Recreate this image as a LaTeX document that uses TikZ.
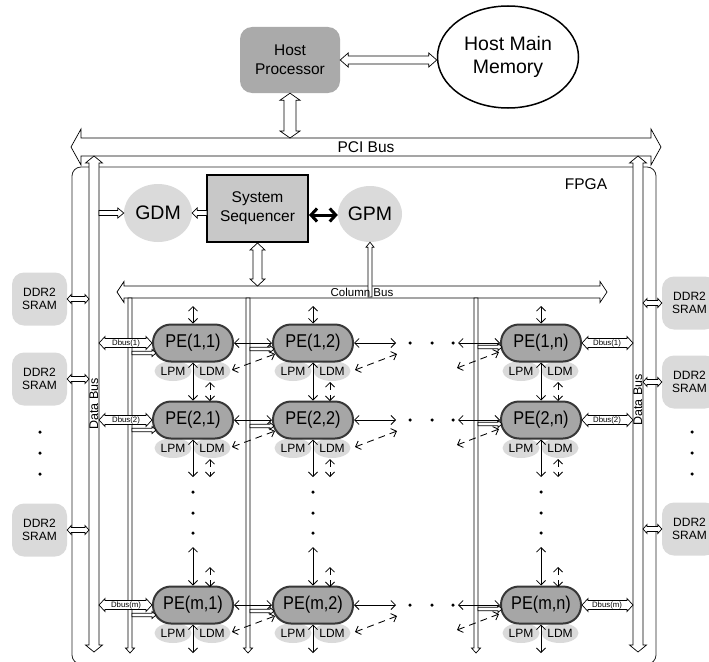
\documentclass[tikz,border=0pt]{standalone}
\usepackage{fontspec}
\setmainfont{Liberation Sans}
\usetikzlibrary{arrows.meta,calc,shapes.geometric}
\definecolor{hpgray}{RGB}{170,170,170}
\definecolor{pegray}{RGB}{166,166,166}
\definecolor{seqgray}{RGB}{200,200,200}
\definecolor{lgray}{RGB}{218,218,218}
\definecolor{pedge}{RGB}{55,55,55}
\newcommand\fsz[2]{\fontsize{#1}{#2}\selectfont}
\newcommand\pelab[1]{\scalebox{0.88}[1]{#1}}
\tikzset{
  hollow both/.style args={#1/#2/#3}{to path={let \p1=(\tikztostart), \p2=(\tikztotarget), \n1={atan2((\y2)-(\y1),(\x2)-(\x1))} in
    -- ($(\p1)+({\n1}:#3)+({\n1+90}:#2)$)
    -- ($(\p1)+({\n1}:#3)+({\n1+90}:#1)$)
    -- ($(\p2)+({\n1+180}:#3)+({\n1+90}:#1)$)
    -- ($(\p2)+({\n1+180}:#3)+({\n1+90}:#2)$)
    -- (\p2)
    -- ($(\p2)+({\n1+180}:#3)+({\n1-90}:#2)$)
    -- ($(\p2)+({\n1+180}:#3)+({\n1-90}:#1)$)
    -- ($(\p1)+({\n1}:#3)+({\n1-90}:#1)$)
    -- ($(\p1)+({\n1}:#3)+({\n1-90}:#2)$)
    -- cycle}},
  hollow end/.style args={#1/#2/#3}{to path={let \p1=(\tikztostart), \p2=(\tikztotarget), \n1={atan2((\y2)-(\y1),(\x2)-(\x1))} in
    ($(\p1)+({\n1+90}:#1)$)
    -- ($(\p2)+({\n1+180}:#3)+({\n1+90}:#1)$)
    -- ($(\p2)+({\n1+180}:#3)+({\n1+90}:#2)$)
    -- (\p2)
    -- ($(\p2)+({\n1+180}:#3)+({\n1-90}:#2)$)
    -- ($(\p2)+({\n1+180}:#3)+({\n1-90}:#1)$)
    -- ($(\p1)+({\n1-90}:#1)$)
    -- cycle}},
  hol/.style={draw=black, line width=0.7pt, fill=white, line join=miter},
  arr/.style={line width=0.85pt, {Straight Barb[length=4.5pt,width=9pt]}-{Straight Barb[length=4.5pt,width=9pt]}},
  darr/.style={arr, dash pattern=on 7pt off 5pt},
  thickarr/.style={line width=3pt, {Straight Barb[length=6pt,width=13pt]}-{Straight Barb[length=6pt,width=13pt]}},
  hp/.style={fill=hpgray, rounded corners=12pt, minimum width=100pt, minimum height=66pt, inner sep=0pt, align=center, font=\fsz{15.5}{19}},
  pe/.style={draw=pedge, line width=2pt, fill=pegray, rounded corners=18pt, minimum width=80pt, minimum height=37pt, inner sep=0pt, font=\fsz{18.5}{20}},
  lm/.style={ellipse, fill=lgray, minimum width=37pt, minimum height=20pt, inner sep=0pt, font=\fsz{12}{13}},
  bigell/.style={ellipse, fill=lgray, inner sep=0pt, font=\fsz{19.5}{22}},
  ddr/.style={fill=lgray, rounded corners=12pt, minimum width=55pt, minimum height=53pt, inner sep=0pt, align=center, font=\fsz{12}{13.5}},
  dot/.style={circle, fill=black, inner sep=0pt, minimum size=3.5pt},
  dbus/.style={inner sep=0pt, font=\fsz{7.8}{8}},
  buslab/.style={inner sep=0pt, font=\fsz{12.5}{14}},
}
\begin{document}
\begin{tikzpicture}[x=1pt,y=-1pt]
\useasboundingbox (0,0) rectangle (709,661);
\clip (0,0) rectangle (709,661);

% FPGA frame
\draw[line width=0.8pt, draw=black!85, rounded corners=9pt] (72,167) rectangle (656,664);
\node[font=\fsz{15.5}{18}] (fpgalab) at (586,184) {FPGA};

% host
\node[hp] (HP) at (290,60) {Host\\Processor};
\node[ellipse, draw, line width=1.5pt, fill=white, minimum width=141pt, minimum height=102pt, inner sep=0pt, align=center, font=\fsz{19.5}{23}] (HMM) at (508,57) {Host Main\\Memory};
\draw[hol] (HP.east) to[hollow both=4pt/7pt/8pt] (HP.east -| HMM.west);

% PCI bus
\coordinate (pciL) at (71,147);
\coordinate (pciR) at (661,147);
\draw[hol] (pciL) to[hollow both=9pt/18pt/10pt] (pciR);
\node[inner sep=0pt, font=\fsz{15.5}{18}] (pcilab) at (366,147) {PCI Bus};
\coordinate (pciT) at (290,138);
\draw[hol] (HP.south) to[hollow both=6pt/10pt/7pt] (pciT);

% data buses
\coordinate (dLt) at (94,156);
\coordinate (dLb) at (94,652);
\draw[hol] (dLt) to[hollow both=5pt/8.5pt/7pt] (dLb);
\node[buslab, rotate=90] (dLlab) at (94,404) {Data Bus};
\coordinate (dRt) at (638,156);
\coordinate (dRb) at (638,652);
\draw[hol] (dRt) to[hollow both=5pt/8.5pt/7pt] (dRb);
\node[buslab, rotate=90] (dRlab) at (638,400) {Data Bus};

% DDR2 SRAM
\foreach \i/\yy in {1/299,2/379,3/530} {
  \node[ddr] (DL\i) at (39.5,\yy) {DDR2\\SRAM};
  \coordinate (dLc\i) at (89,\yy);
  \draw[hol] (DL\i.east) to[hollow both=2.5pt/4.5pt/4pt] (dLc\i);
}
\foreach \i/\yy in {1/303,2/382,3/529} {
  \node[ddr] (DR\i) at (689.5,\yy) {DDR2\\SRAM};
  \coordinate (dRc\i) at (643,\yy);
  \draw[hol] (dRc\i) to[hollow both=2.5pt/4.5pt/4pt] (DR\i.west);
}
\foreach \i/\yy in {1/432,2/453,3/474} {
  \node[dot] (ddL\i) at (40,\yy) {};
  \node[dot] (ddR\i) at (692,\yy) {};
}

% GDM, sequencer, GPM
\node[bigell, minimum width=68pt, minimum height=58pt] (GDM) at (158,213) {GDM};
\node[draw=black, line width=2pt, fill=seqgray, minimum width=101pt, minimum height=67pt, inner sep=0pt, align=center, font=\fsz{15.5}{19}] (SEQ) at (257.5,208.5) {System\\Sequencer};
\node[bigell, minimum width=64pt, minimum height=56pt] (GPM) at (370,214) {GPM};
\coordinate (dbg) at (99,213);
\draw[hol] (dbg) to[hollow end=2.5pt/5pt/6pt] (GDM.west);
\coordinate (seqg) at (207,213);
\draw[hol] (seqg) to[hollow end=2.5pt/5pt/5pt] (GDM.east);
\coordinate (sqe) at (309,215);
\draw[thickarr] (sqe) -- (sqe -| GPM.west);

% column bus
\coordinate (cbL) at (117,292);
\coordinate (cbR) at (607,292);
\draw[hol] (cbL) to[hollow both=6pt/10.5pt/7pt] (cbR);
\coordinate (cbs) at (257.5,286);
\draw[hol] (SEQ.south) to[hollow both=4.5pt/7.5pt/7pt] (cbs);
\coordinate (cbg) at (370,297);
\draw[hol] (cbg) to[hollow end=2pt/4pt/5pt] (GPM.south);
\node[inner sep=0pt, font=\fsz{11.5}{12}] (cblab) at (362,292.5) {Column Bus};

% column lines
\foreach \i/\xx in {1/130,2/248,3/476} {
  \coordinate (cl\i t) at (\xx,298);
  \coordinate (cl\i b) at (\xx,653);
  \draw[hol] (cl\i t) to[hollow end=2pt/4.5pt/5pt] (cl\i b);
}

% PEs with local memories
\foreach \rr/\yy/\lab in {1/343/1,2/420/2,3/605/m} {
  \foreach \col/\xx/\cn in {a/193/1,b/313/2,c/541/n} {
    \node[lm] (LPM\col\rr) at (\xx-20,\yy+28) {LPM};
    \node[lm] (LDM\col\rr) at (\xx+19,\yy+28) {LDM};
    \node[pe] (P\col\rr) at (\xx,\yy) {\pelab{PE(\lab,\cn)}};
  }
}

% vertical links per column
\foreach \col/\xx in {a/193,b/313,c/541} {
  \coordinate (vt\col) at (\xx,306);
  \draw[arr] (vt\col) -- (P\col1.north);
  \draw[arr] (P\col1.south) -- (P\col2.north);
  \coordinate (vm\col) at (\xx,477);
  \draw[arr] (P\col2.south) -- (vm\col);
  \coordinate (vu\col) at (\xx,547);
  \draw[arr] (vu\col) -- (P\col3.north);
  \coordinate (vb\col) at (\xx,653);
  \draw[arr] (P\col3.south) -- (vb\col);
  \node[dot] (vd\col1) at (\xx,492) {};
  \node[dot] (vd\col2) at (\xx,513) {};
  \node[dot] (vd\col3) at (\xx,533) {};
  \coordinate (sa\col) at (\xx+17,382);
  \coordinate (sb\col) at (\xx+17,401);
  \draw[darr] (sa\col) -- (sb\col);
  \coordinate (sc\col) at (\xx+17,459);
  \coordinate (sd\col) at (\xx+17,477);
  \draw[darr] (sc\col) -- (sd\col);
  \coordinate (se\col) at (\xx+17,567);
  \coordinate (sf\col) at (\xx+17,587);
  \draw[darr] (se\col) -- (sf\col);
}

% horizontal links per row
\foreach \rr/\yy/\lab in {1/343/1,2/420/2,3/605/m} {
  \coordinate (dbl\rr) at (99,\yy);
  \draw[hol] (dbl\rr) to[hollow both=4.5pt/6.5pt/6pt] (Pa\rr.west);
  \node[dbus] (dbllab\rr) at (126,\yy) {Dbus(\lab)};
  \coordinate (c1s\rr) at (132,\yy+10);
  \coordinate (c1e\rr) at (156,\yy+10);
  \draw[hol] (c1s\rr) to[hollow end=1.8pt/3.5pt/4pt] (c1e\rr);
  \draw[arr] (Pa\rr.east) -- (Pb\rr.west);
  \coordinate (c2s\rr) at (250,\yy+6);
  \coordinate (c2e\rr) at (274,\yy+6);
  \draw[hol] (c2s\rr) to[hollow end=1.8pt/3.5pt/4pt] (c2e\rr);
  \coordinate (da1\rr) at (232,\yy+27);
  \coordinate (da2\rr) at (275,\yy+11);
  \draw[darr] (da1\rr) -- (da2\rr);
  \coordinate (rb\rr) at (396,\yy);
  \draw[arr] (Pb\rr.east) -- (rb\rr);
  \coordinate (db1\rr) at (355,\yy+27);
  \coordinate (db2\rr) at (397,\yy+11);
  \draw[darr] (db1\rr) -- (db2\rr);
  \node[dot] (hd1\rr) at (410,\yy) {};
  \node[dot] (hd2\rr) at (432,\yy) {};
  \node[dot] (hd3\rr) at (453,\yy) {};
  \coordinate (lc\rr) at (458,\yy);
  \draw[arr] (lc\rr) -- (Pc\rr.west);
  \coordinate (c3s\rr) at (478,\yy+4);
  \coordinate (c3e\rr) at (502,\yy+4);
  \draw[hol] (c3s\rr) to[hollow end=1.8pt/3.5pt/4pt] (c3e\rr);
  \coordinate (dc1\rr) at (457,\yy+25);
  \coordinate (dc2\rr) at (499,\yy+9);
  \draw[darr] (dc1\rr) -- (dc2\rr);
  \coordinate (dbr\rr) at (633,\yy);
  \draw[hol] (Pc\rr.east) to[hollow both=4.5pt/6.5pt/6pt] (dbr\rr);
  \node[dbus] (dbrlab\rr) at (607,\yy) {Dbus(\lab)};
}
\end{tikzpicture}
\end{document}
